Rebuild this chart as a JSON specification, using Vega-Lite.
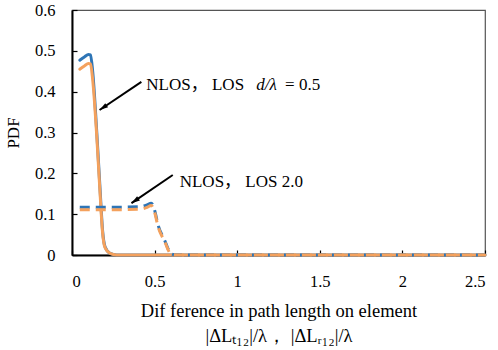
{
  "$schema": "https://vega.github.io/schema/vega-lite/v6.json",
  "width": 413,
  "height": 245,
  "autosize": "none",
  "padding": {"left": 72, "top": 10, "right": 13, "bottom": 95},
  "background": "white",
  "config": {
    "font": "Liberation Serif, Noto Sans CJK SC, serif",
    "view": {"stroke": "#555555", "strokeWidth": 1.2},
    "axis": {
      "grid": false,
      "domainColor": "#000000",
      "domainWidth": 2,
      "tickColor": "#000000",
      "tickWidth": 1.2,
      "tickSize": -5,
      "labelFont": "Liberation Serif, serif",
      "labelFontSize": 16.5,
      "labelColor": "#000000",
      "titleFont": "Liberation Serif, serif",
      "titleFontSize": 17,
      "titleFontWeight": "normal",
      "titleColor": "#000000"
    }
  },
  "datasets": {
    "curves": [
      {"s": "b05", "x": 0.047, "y": 0.477},
      {"s": "b05", "x": 0.075, "y": 0.485},
      {"s": "b05", "x": 0.1, "y": 0.491},
      {"s": "b05", "x": 0.112, "y": 0.49},
      {"s": "b05", "x": 0.125, "y": 0.45},
      {"s": "b05", "x": 0.15, "y": 0.3},
      {"s": "b05", "x": 0.17, "y": 0.16},
      {"s": "b05", "x": 0.185, "y": 0.06},
      {"s": "b05", "x": 0.2, "y": 0.02},
      {"s": "b05", "x": 0.23, "y": 0.004},
      {"s": "b05", "x": 0.27, "y": 0},
      {"s": "b05", "x": 2.5, "y": 0},
      {"s": "o05", "x": 0.047, "y": 0.455},
      {"s": "o05", "x": 0.075, "y": 0.463},
      {"s": "o05", "x": 0.1, "y": 0.469},
      {"s": "o05", "x": 0.112, "y": 0.468},
      {"s": "o05", "x": 0.125, "y": 0.43},
      {"s": "o05", "x": 0.15, "y": 0.29},
      {"s": "o05", "x": 0.17, "y": 0.15},
      {"s": "o05", "x": 0.185, "y": 0.055},
      {"s": "o05", "x": 0.2, "y": 0.018},
      {"s": "o05", "x": 0.23, "y": 0.004},
      {"s": "o05", "x": 0.27, "y": 0},
      {"s": "o05", "x": 2.5, "y": 0},
      {"s": "b20", "x": 0.047, "y": 0.117},
      {"s": "b20", "x": 0.25, "y": 0.117},
      {"s": "b20", "x": 0.4, "y": 0.118},
      {"s": "b20", "x": 0.45, "y": 0.122},
      {"s": "b20", "x": 0.48, "y": 0.127},
      {"s": "b20", "x": 0.5, "y": 0.11},
      {"s": "b20", "x": 0.52, "y": 0.075},
      {"s": "b20", "x": 0.56, "y": 0.037},
      {"s": "b20", "x": 0.6, "y": 0.003},
      {"s": "b20", "x": 0.63, "y": 0},
      {"s": "b20", "x": 2.5, "y": 0},
      {"s": "o20", "x": 0.047, "y": 0.111},
      {"s": "o20", "x": 0.25, "y": 0.111},
      {"s": "o20", "x": 0.4, "y": 0.112},
      {"s": "o20", "x": 0.45, "y": 0.116},
      {"s": "o20", "x": 0.48, "y": 0.121},
      {"s": "o20", "x": 0.5, "y": 0.105},
      {"s": "o20", "x": 0.52, "y": 0.071},
      {"s": "o20", "x": 0.56, "y": 0.034},
      {"s": "o20", "x": 0.6, "y": 0.002},
      {"s": "o20", "x": 0.63, "y": 0},
      {"s": "o20", "x": 2.5, "y": 0}
    ],
    "arrows": [
      {"x": 0.42, "y": 0.424, "x2": 0.167, "y2": 0.355},
      {"x": 0.61, "y": 0.196, "x2": 0.36, "y2": 0.127}
    ]
  },
  "layer": [
    {
      "data": {"name": "curves"},
      "transform": [{"filter": "datum.s === 'b05'"}],
      "mark": {"type": "line", "color": "#2E75B6", "strokeWidth": 3, "interpolate": "monotone", "strokeCap": "round"},
      "encoding": {
        "x": {"field": "x", "type": "quantitative", "scale": {"domain": [0, 2.5], "nice": false},
          "axis": {"values": [0, 0.5, 1, 1.5, 2, 2.5], "format": ".1~f", "labelPadding": 23, "labelBaseline": "top", "titlePadding": 12, "titleLineHeight": 25, "titleFontSize": 18.5,
            "title": ["Dif ference in path length on element", "|ΔLₜ₁₂|/λ，  |ΔLᵣ₁₂|/λ"]}},
        "y": {"field": "y", "type": "quantitative", "scale": {"domain": [0, 0.6], "nice": false},
          "axis": {"values": [0, 0.1, 0.2, 0.3, 0.4, 0.5, 0.6], "format": ".1~f", "labelPadding": 22, "titlePadding": 12, "title": "PDF"}}
      }
    },
    {
      "data": {"name": "curves"},
      "transform": [{"filter": "datum.s === 'o05'"}],
      "mark": {"type": "line", "color": "#F4A15D", "strokeWidth": 3, "interpolate": "monotone", "strokeCap": "round"},
      "encoding": {
        "x": {"field": "x", "type": "quantitative"},
        "y": {"field": "y", "type": "quantitative"}
      }
    },
    {
      "data": {"name": "curves"},
      "transform": [{"filter": "datum.s === 'b20'"}],
      "mark": {"type": "line", "color": "#2E75B6", "strokeWidth": 3, "interpolate": "monotone", "strokeDash": [10, 6]},
      "encoding": {
        "x": {"field": "x", "type": "quantitative"},
        "y": {"field": "y", "type": "quantitative"}
      }
    },
    {
      "data": {"name": "curves"},
      "transform": [{"filter": "datum.s === 'o20'"}],
      "mark": {"type": "line", "color": "#F4A15D", "strokeWidth": 3, "interpolate": "monotone", "strokeDash": [10, 6]},
      "encoding": {
        "x": {"field": "x", "type": "quantitative"},
        "y": {"field": "y", "type": "quantitative"}
      }
    },
    {
      "data": {"name": "arrows"},
      "mark": {"type": "rule", "color": "#000000", "strokeWidth": 2},
      "encoding": {
        "x": {"field": "x", "type": "quantitative"},
        "y": {"field": "y", "type": "quantitative"},
        "x2": {"field": "x2"},
        "y2": {"field": "y2"}
      }
    },
    {
      "data": {"name": "arrows"},
      "mark": {"type": "point", "shape": "M0,0L-0.5,1.7L0.5,1.7Z", "filled": true, "color": "#000000", "opacity": 1, "size": 100, "angle": 236},
      "encoding": {
        "x": {"field": "x2", "type": "quantitative"},
        "y": {"field": "y2", "type": "quantitative"}
      }
    },
    {
      "data": {"values": [{"x": 0.45, "y": 0.416, "t": "NLOS，  LOS"}, {"x": 0.652, "y": 0.18, "t": "NLOS，  LOS 2.0"}, {"x": 1.29, "y": 0.416, "t": "= 0.5"}]},
      "mark": {"type": "text", "align": "left", "baseline": "middle", "font": "Liberation Serif, Noto Sans CJK SC, serif", "fontSize": 17, "color": "#000000"},
      "encoding": {
        "x": {"field": "x", "type": "quantitative"},
        "y": {"field": "y", "type": "quantitative"},
        "text": {"field": "t"}
      }
    },
    {
      "data": {"values": [{"x": 1.116, "y": 0.416, "t": "d/λ"}]},
      "mark": {"type": "text", "align": "left", "baseline": "middle", "font": "Liberation Serif, serif", "fontSize": 17, "fontStyle": "italic", "color": "#000000"},
      "encoding": {
        "x": {"field": "x", "type": "quantitative"},
        "y": {"field": "y", "type": "quantitative"},
        "text": {"field": "t"}
      }
    }
  ]
}
